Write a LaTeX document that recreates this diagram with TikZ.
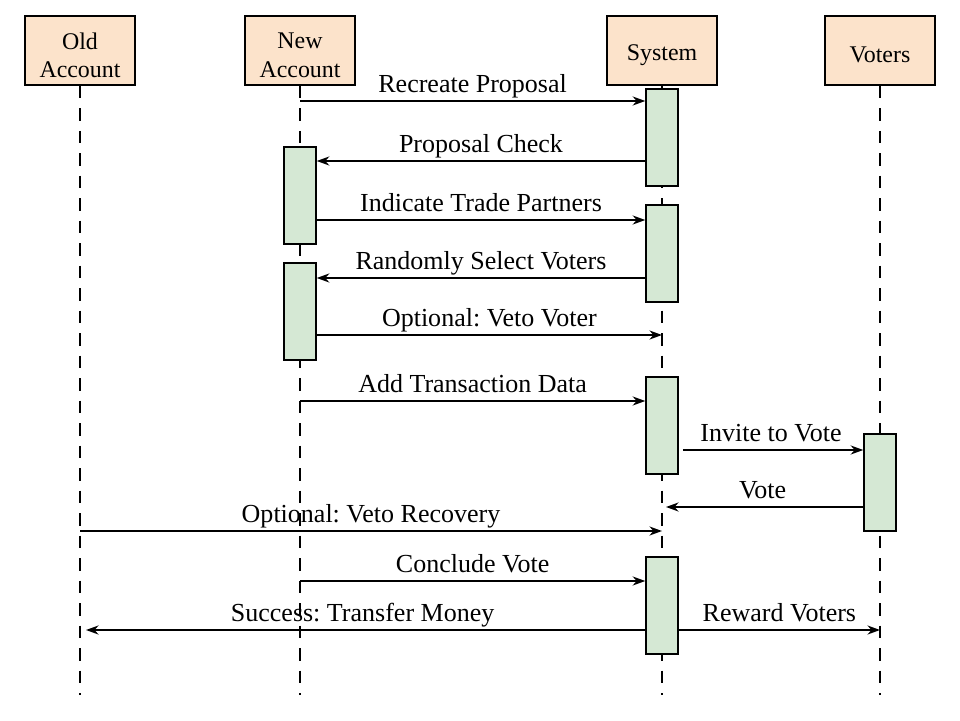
\documentclass[tikz,border=0pt]{standalone}
\usepackage{fontspec}
\setmainfont{Liberation Serif}
\usetikzlibrary{arrows.meta}
\usetikzlibrary{positioning}
\definecolor{headfill}{HTML}{FCE3CB}
\definecolor{actfill}{HTML}{D5E8D4}
\frenchspacing

\begin{document}
\begin{tikzpicture}[
  head/.style={draw=black,line width=1.1pt,fill=headfill,minimum width=2.75cm,minimum height=1.725cm,
    label={[align=center,yshift=-0.12cm,font=\fontsize{17}{20}\selectfont]center:#1}},
  act/.style={draw=black,line width=1.1pt,fill=actfill,minimum width=0.8cm,minimum height=2.43cm,anchor=north,inner sep=0pt},
  life/.style={black,line width=1pt,dash pattern=on 9pt off 7pt},
  msg/.style={black,line width=1pt,-{Stealth[length=9pt,width=6.5pt,inset=3pt]}},
  lbl/.style={midway,anchor=base,yshift=0.22cm,inner sep=0pt,font=\fontsize{18.5}{22}\selectfont}
]
\useasboundingbox (0,0) rectangle (24,18);

% heads and lifelines
\node[head={Old\\Account}] (old) at (2.0,16.7375) {};
\node[head={New\\Account}] (new) at (7.5,16.7375) {};
\node[head={System}] (sys) at (16.55,16.7375) {};
\node[head={Voters}] (vot) at (22.0,16.7375) {};
\coordinate (oldend) at (2.0,0.625);
\coordinate (newend) at (7.5,0.625);
\coordinate (sysend) at (16.55,0.625);
\coordinate (votend) at (22.0,0.625);
\draw[life] (old.south) -- (oldend);
\draw[life] (new.south) -- (newend);
\draw[life] (sys.south) -- (sysend);
\draw[life] (vot.south) -- (votend);

% activations
\node[act] (sa1) at (16.55,15.8) {};
\node[act] (sa2) at (16.55,12.9) {};
\node[act] (sa3) at (16.55,8.6) {};
\node[act] (sa4) at (16.55,4.1) {};
\node[act] (na1) at (7.5,14.35) {};
\node[act] (na2) at (7.5,11.45) {};
\node[act] (va1) at (22.0,7.175) {};

% messages
\draw[msg] (new.south |- 0,15.475) -- (sa1.west |- 0,15.475) node[lbl] {Recreate Proposal};
\draw[msg] (sa1.west |- 0,13.975) -- (na1.east |- 0,13.975) node[lbl] {Proposal Check};
\draw[msg] (na1.east |- 0,12.5) -- (sa2.west |- 0,12.5) node[lbl] {Indicate Trade Partners};
\draw[msg] (sa2.west |- 0,11.05) -- (na2.east |- 0,11.05) node[lbl] {Randomly Select Voters};
\draw[msg] (na2.east |- 0,9.625) -- (sys.south |- 0,9.625) node[lbl] {Optional: Veto Voter};
\draw[msg] (new.south |- 0,7.975) -- (sa3.west |- 0,7.975) node[lbl] {Add Transaction Data};
\draw[msg,shorten <=0.1cm] (sa3.east |- 0,6.75) -- (va1.west |- 0,6.75) node[lbl] {Invite to Vote};
\draw[msg,shorten >=0.1cm] (va1.west |- 0,5.325) -- (sys.south |- 0,5.325) node[lbl] {Vote};
\draw[msg] (old.south |- 0,4.725) -- (sys.south |- 0,4.725) node[lbl] {Optional: Veto Recovery};
\draw[msg] (new.south |- 0,3.475) -- (sa4.west |- 0,3.475) node[lbl] {Conclude Vote};
\draw[msg,shorten >=0.15cm] (sa4.west |- 0,2.25) -- (old.south |- 0,2.25) node[lbl] {Success: Transfer Money};
\draw[msg] (sa4.east |- 0,2.25) -- (vot.south |- 0,2.25) node[lbl] {Reward Voters};

\end{tikzpicture}
\end{document}
